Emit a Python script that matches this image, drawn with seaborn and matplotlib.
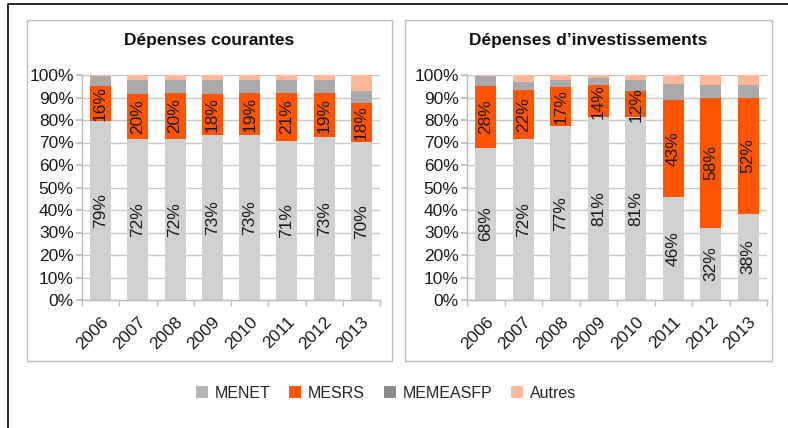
import matplotlib
matplotlib.use("Agg")
import matplotlib.pyplot as plt
import matplotlib.patches as mpatches
from matplotlib.lines import Line2D
import seaborn as sns
import pandas as pd
import numpy as np

years = ["2006", "2007", "2008", "2009", "2010", "2011", "2012", "2013"]
series = ["MENET", "MESRS", "MEMEASFP", "Autres"]
colors = {"MENET": "#D0D0D0", "MESRS": "#FF5500", "MEMEASFP": "#AAAAAA", "Autres": "#FFB898"}

cour_menet = [79.4, 71.6, 71.6, 73.2, 73.2, 70.8, 72.6, 70.1]
cour_mesrs = [15.8, 19.8, 20.4, 18.4, 18.9, 21.3, 19.2, 17.6]
cour_memeasfp = [4.3, 6.4, 5.8, 6.2, 5.7, 5.7, 6.0, 5.3]
cour_autres = [0.5, 2.2, 2.2, 2.2, 2.2, 2.2, 2.2, 7.0]

inv_menet = [67.7, 71.6, 77.2, 81.2, 81.2, 45.6, 32.0, 38.4]
inv_mesrs = [27.6, 21.6, 17.4, 14.2, 11.7, 43.4, 57.9, 51.6]
inv_memeasfp = [4.1, 3.7, 3.2, 3.3, 4.7, 7.1, 5.5, 5.4]
inv_autres = [0.6, 3.1, 2.2, 1.3, 2.4, 3.9, 4.6, 4.6]

titles = ["Dépenses courantes", "Dépenses d\u2019investissements"]
yticks = list(range(0, 101, 10))
ytick_labels = [f"{v}%" for v in yticks]
labelled = ["MENET", "MESRS"]

sns.set_theme(style="white")
plt.rcParams["font.family"] = ["Liberation Sans", "DejaVu Sans"]

W, H = 788, 428
fig = plt.figure(figsize=(W / 100, H / 100), dpi=100)


def fx(px):
    return px / W


def fy(py):
    return 1 - py / H


# outer frame (left and top lines)
fig.add_artist(Line2D([fx(8), fx(8), fx(788)], [fy(428), fy(4), fy(4)],
                      transform=fig.transFigure, color="black", lw=1.2))

panels = [
    dict(box=(27, 20, 392, 361), ax=(82, 75, 380, 300),
         data=[cour_menet, cour_mesrs, cour_memeasfp, cour_autres]),
    dict(box=(405, 20, 772, 361), ax=(467, 75, 767, 300),
         data=[inv_menet, inv_mesrs, inv_memeasfp, inv_autres]),
]

grid_c = "#C8C8C8"
axis_c = "#BBBBBB"

for i, p in enumerate(panels):
    x0, y0, x1, y1 = p["box"]
    fig.add_artist(mpatches.Rectangle((fx(x0), fy(y1)), fx(x1 - x0), (y1 - y0) / H,
                                      transform=fig.transFigure, fill=False,
                                      edgecolor="#BDBDBD", lw=1.0))
    fig.text(fx((x0 + x1) / 2), fy(41), titles[i], ha="center", va="center",
             fontsize=12.5, fontweight="bold", color="#111111")

    a0, b0, a1, b1 = p["ax"]
    ax = fig.add_axes([fx(a0), fy(b1), fx(a1 - a0), (b1 - b0) / H])

    rows = []
    for s, vals in zip(series, p["data"]):
        for y, v in zip(years, vals):
            rows.append(dict(year=y, series=s, value=v))
    df = pd.DataFrame(rows)
    wide = df.pivot(index="year", columns="series", values="value").loc[years, series]
    cum = wide.cumsum(axis=1)

    # draw from top series to bottom (overlapping cumulative totals)
    for s in reversed(series):
        sns.barplot(x=years, y=cum[s].values, color=colors[s], width=0.56,
                    ax=ax, saturation=1, linewidth=0, order=years, zorder=2)

    # labels
    for s in labelled:
        bottoms = cum[s].values - wide[s].values
        for k, (v, b) in enumerate(zip(wide[s].values, bottoms)):
            ax.text(k, b + v / 2, f"{round(v):d}%", rotation=90, ha="center",
                    va="center", fontsize=12.5, color="#1a1a1a", zorder=3)

    ax.set_ylim(0, 100)
    ax.set_xlim(-0.5, len(years) - 0.5)
    ax.set_yticks(yticks)
    ax.set_yticklabels(ytick_labels, fontsize=12.5, color="#1a1a1a")
    ax.set_axisbelow(True)
    ax.yaxis.grid(True, color=grid_c, lw=1.0, zorder=0)
    ax.xaxis.grid(False)
    for sp in ["top", "right"]:
        ax.spines[sp].set_visible(False)
    for sp in ["left", "bottom"]:
        ax.spines[sp].set_visible(True)
        ax.spines[sp].set_color(axis_c)
        ax.spines[sp].set_linewidth(1.0)
    ax.tick_params(axis="y", which="major", length=4, color=axis_c, pad=2, left=True)
    ax.set_xticks(np.arange(len(years)))
    ax.set_xticklabels(years, rotation=45, ha="right", va="top",
                       rotation_mode="anchor", fontsize=12.5, color="#1a1a1a")
    ax.tick_params(axis="x", which="major", length=0, pad=10)
    ax.set_xticks(np.arange(len(years) + 1) - 0.5, minor=True)
    ax.tick_params(axis="x", which="minor", length=4, color=axis_c, bottom=True)
    ax.set_xlabel("")
    ax.set_ylabel("")

handles = [mpatches.Patch(facecolor=colors[s], edgecolor="none", label=s) for s in series]
handles[0] = mpatches.Patch(facecolor="#B4B4B4", edgecolor="none", label="MENET")
handles[2] = mpatches.Patch(facecolor="#8C8C8C", edgecolor="none", label="MEMEASFP")
fig.legend(handles=handles, loc="center", bbox_to_anchor=(fx(386), fy(393)), ncol=4,
           frameon=False, fontsize=11.5, handlelength=0.75, handleheight=0.75,
           handletextpad=0.4, columnspacing=1.2, borderaxespad=0)

fig.savefig("out.png", dpi=100)
